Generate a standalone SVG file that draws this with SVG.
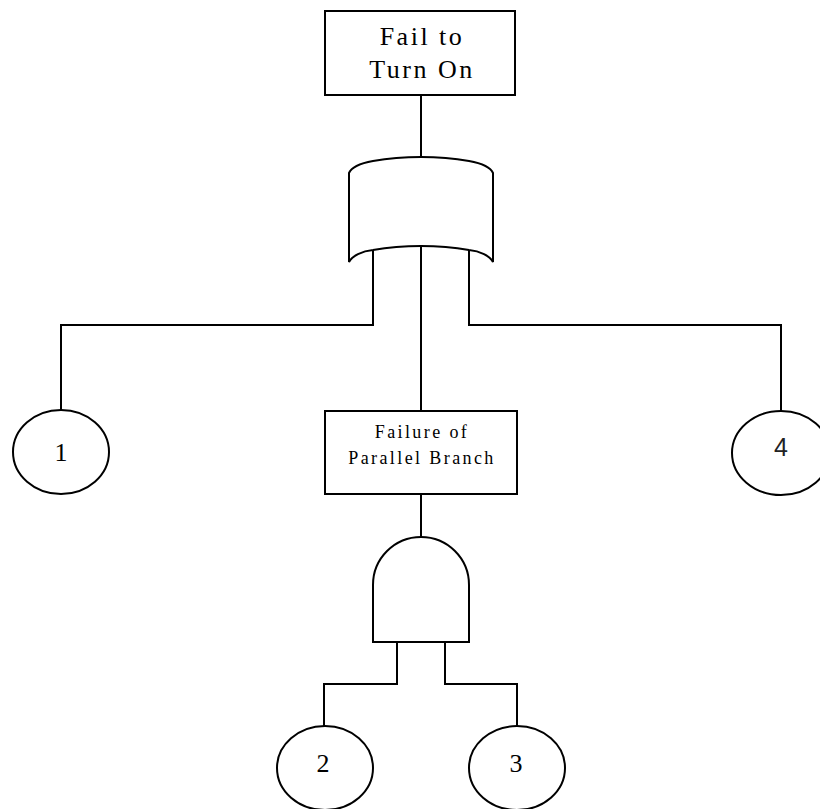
<svg xmlns="http://www.w3.org/2000/svg" width="820" height="809" viewBox="0 0 820 809">
<style>
.s{fill:#fff;stroke:#000;stroke-width:2}
.c{fill:none;stroke:#000;stroke-width:2}
.t{font-family:"Liberation Serif","Times New Roman",serif;fill:#000;text-anchor:middle}
.big{font-size:26px;letter-spacing:2.5px}
.mid{font-size:18px;letter-spacing:2.4px}
.num{font-size:26px}
.sans{font-family:"Liberation Sans",Arial,sans-serif;font-size:25px;fill:#222;text-anchor:middle}
</style>
<rect width="820" height="809" fill="#fff"/>
<g id="connectors">
<path class="c" d="M421,95 V157"/>
<path class="c" d="M373,250 V325 H61 V410"/>
<path class="c" d="M421,246 V411"/>
<path class="c" d="M469,250 V325 H781 V411"/>
<path class="c" d="M421,494 V537"/>
<path class="c" d="M397,642 V684 H324 V726"/>
<path class="c" d="M445,642 V684 H517 V726"/>
</g>
<g id="top">
<rect class="s" x="325" y="11" width="190" height="84"/>
<text class="t big" x="422" y="45">Fail to</text>
<text class="t big" x="422" y="78">Turn On</text>
</g>
<g id="orgate">
<path class="s" d="M349,173 C352,166 362,163 373,161 C390,158 405,157 421,157 C437,157 452,158 469,161 C480,163 490,166 493,173 L493,262 C490,256 480,251 469,250 C452,247 437,246 421,246 C405,246 390,247 373,250 C362,251 352,256 349,262 Z"/>
</g>
<g id="e1">
<ellipse class="s" cx="61" cy="452" rx="48" ry="42"/>
<text class="t num" x="61" y="461">1</text>
</g>
<g id="e4">
<ellipse class="s" cx="781" cy="453" rx="49" ry="42"/>
<text class="sans" x="781" y="456">4</text>
</g>
<g id="branch">
<rect class="s" x="325" y="411" width="192" height="83"/>
<text class="t mid" x="422" y="438">Failure of</text>
<text class="t mid" x="422" y="464">Parallel Branch</text>
</g>
<g id="andgate">
<path class="s" d="M373,642 L373,585 A48,48 0 0 1 469,585 L469,642 Z"/>
</g>
<g id="e2">
<ellipse class="s" cx="325" cy="768" rx="48" ry="42"/>
<text class="t num" x="323" y="772">2</text>
</g>
<g id="e3">
<ellipse class="s" cx="517" cy="768" rx="48" ry="42"/>
<text class="t num" x="516" y="772">3</text>
</g>
</svg>
